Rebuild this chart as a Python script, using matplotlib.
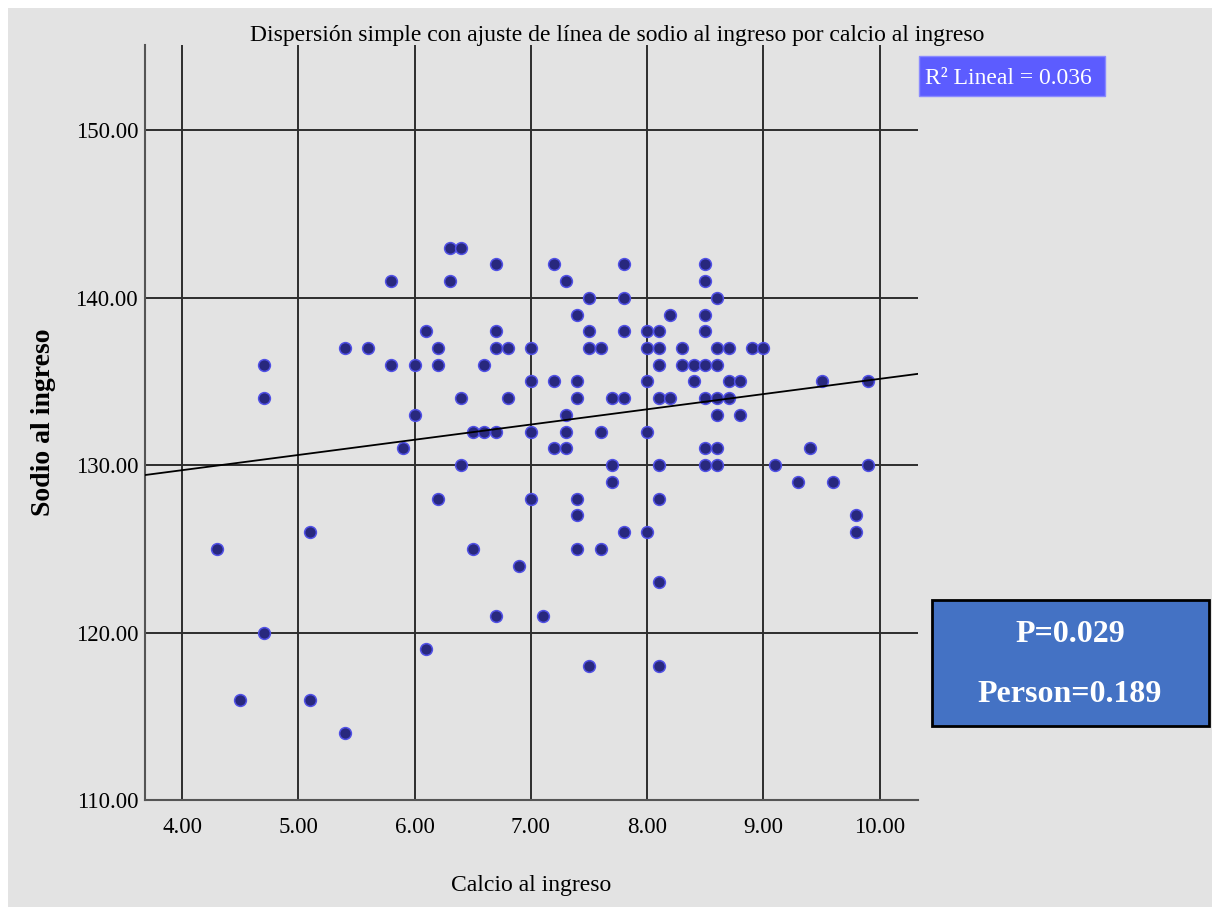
import matplotlib
matplotlib.use('Agg')
import matplotlib.pyplot as plt
import numpy as np
from matplotlib.patches import Rectangle

plt.rcParams['font.family'] = ['Liberation Serif', 'DejaVu Serif']

# calcio (x) -> lista de sodio (y) para cada valor de calcio
calcio_niveles = [4.3, 4.5, 4.7, 5.1, 5.4, 5.6, 5.8, 5.9, 6.0, 6.1, 6.2, 6.3,
                  6.4, 6.5, 6.6, 6.7, 6.8, 6.9, 7.0, 7.1, 7.2, 7.3, 7.4, 7.5,
                  7.6, 7.7, 7.8, 8.0, 8.1, 8.2, 8.3, 8.4, 8.5, 8.6, 8.7, 8.8,
                  8.9, 9.0, 9.1, 9.3, 9.4, 9.5, 9.6, 9.8, 9.9]
sodio_por_nivel = [
    [125], [116], [136, 134, 120], [126, 116], [137, 114], [137],
    [141, 136], [131], [136, 133], [138, 119], [137, 136, 128], [143, 141],
    [143, 134, 130], [132, 125], [136, 132], [142, 138, 137, 132, 121],
    [137, 134], [124], [137, 135, 132, 128], [121], [142, 135, 131],
    [141, 133, 132, 131], [139, 135, 134, 128, 127, 125],
    [140, 138, 137, 118], [137, 132, 125], [134, 130, 129],
    [142, 140, 138, 134, 126], [138, 137, 135, 132, 126],
    [138, 137, 136, 134, 130, 128, 123, 118], [139, 134], [137, 136],
    [136, 135], [142, 141, 139, 138, 136, 134, 131, 130],
    [140, 137, 136, 134, 133, 131, 130], [137, 135, 134], [135, 133],
    [137], [137], [130], [129], [131], [135], [129], [127, 126], [135, 130],
]

x_ticks = [4.0, 5.0, 6.0, 7.0, 8.0, 9.0, 10.0]
y_ticks = [110, 120, 130, 140, 150]

titulo = 'Dispersión simple con ajuste de línea de sodio al ingreso por calcio al ingreso'
r2_texto = 'R² Lineal = 0.036'
p_texto = 'P=0.029'
pearson_texto = 'Person=0.189'

calcio = np.array([c for c, ys in zip(calcio_niveles, sodio_por_nivel) for _ in ys])
sodio = np.array([y for ys in sodio_por_nivel for y in ys])

fondo = '#e3e3e3'
fig = plt.figure(figsize=(12.2, 9.15), dpi=100)
fig.patch.set_facecolor('white')
fig.patches.append(Rectangle((8 / 1220, 1 - 907 / 915), 1204 / 1220, 899 / 915,
                             transform=fig.transFigure, fc=fondo, ec='none', zorder=-5))

ax = fig.add_axes([145 / 1220, 1 - 800 / 915, 773 / 1220, 755 / 915])
ax.set_zorder(1)
ax.set_facecolor(fondo)
ax.set_xlim(3.68, 10.33)
ax.set_ylim(110, 155.1)
ax.set_xticks(x_ticks)
ax.set_yticks(y_ticks)
ax.set_xticklabels([f'{v:.2f}' for v in x_ticks])
ax.set_yticklabels([f'{v:.2f}' for v in y_ticks])
ax.tick_params(length=0, labelsize=16.5)
ax.tick_params(axis='x', pad=12)
ax.tick_params(axis='y', pad=5)
for s in ['top', 'right']:
    ax.spines[s].set_visible(False)
for s in ['left', 'bottom']:
    ax.spines[s].set_color('#555555')
    ax.spines[s].set_linewidth(1.5)
ax.grid(True, color='#2e2e2e', linewidth=1.4)
ax.set_axisbelow(True)

ax.scatter(calcio, sodio, s=72, marker='o', facecolor='#28287e',
           edgecolor='#5050e6', linewidth=1.1, zorder=3)

# recta de ajuste lineal
pend, inter = np.polyfit(calcio, sodio, 1)
xl = np.array(ax.get_xlim())
ax.plot(xl, inter + pend * xl, color='black', linewidth=1.3, zorder=4)

ax.set_xlabel('Calcio al ingreso', fontsize=17, labelpad=27)
ax.set_ylabel('Sodio al ingreso', fontsize=20, fontweight='bold', labelpad=14)

fig.text(617 / 1220, 1 - 35 / 915, titulo, ha='center', va='center', fontsize=17)

# recuadro R²
fig.patches.append(Rectangle((919 / 1220, 1 - 96 / 915), 186 / 1220, 40 / 915,
                             transform=fig.transFigure, fc='#5c5cff',
                             ec='#8a8aff', lw=1, zorder=5))
fig.text(925 / 1220, 1 - 78 / 915, r2_texto, ha='left', va='center',
         fontsize=17, color='white', zorder=6)

# recuadro P / Pearson
fig.patches.append(Rectangle((932 / 1220, 1 - 726 / 915), 277 / 1220, 126 / 915,
                             transform=fig.transFigure, fc='#4472c4',
                             ec='black', lw=2, zorder=5))
fig.text(1070 / 1220, 1 - 634 / 915, p_texto, ha='center', va='center',
         fontsize=23, fontweight='bold', color='white', zorder=6)
fig.text(1070 / 1220, 1 - 694 / 915, pearson_texto, ha='center', va='center',
         fontsize=23, fontweight='bold', color='white', zorder=6)

fig.savefig('out.png', dpi=100, facecolor=fig.get_facecolor())
